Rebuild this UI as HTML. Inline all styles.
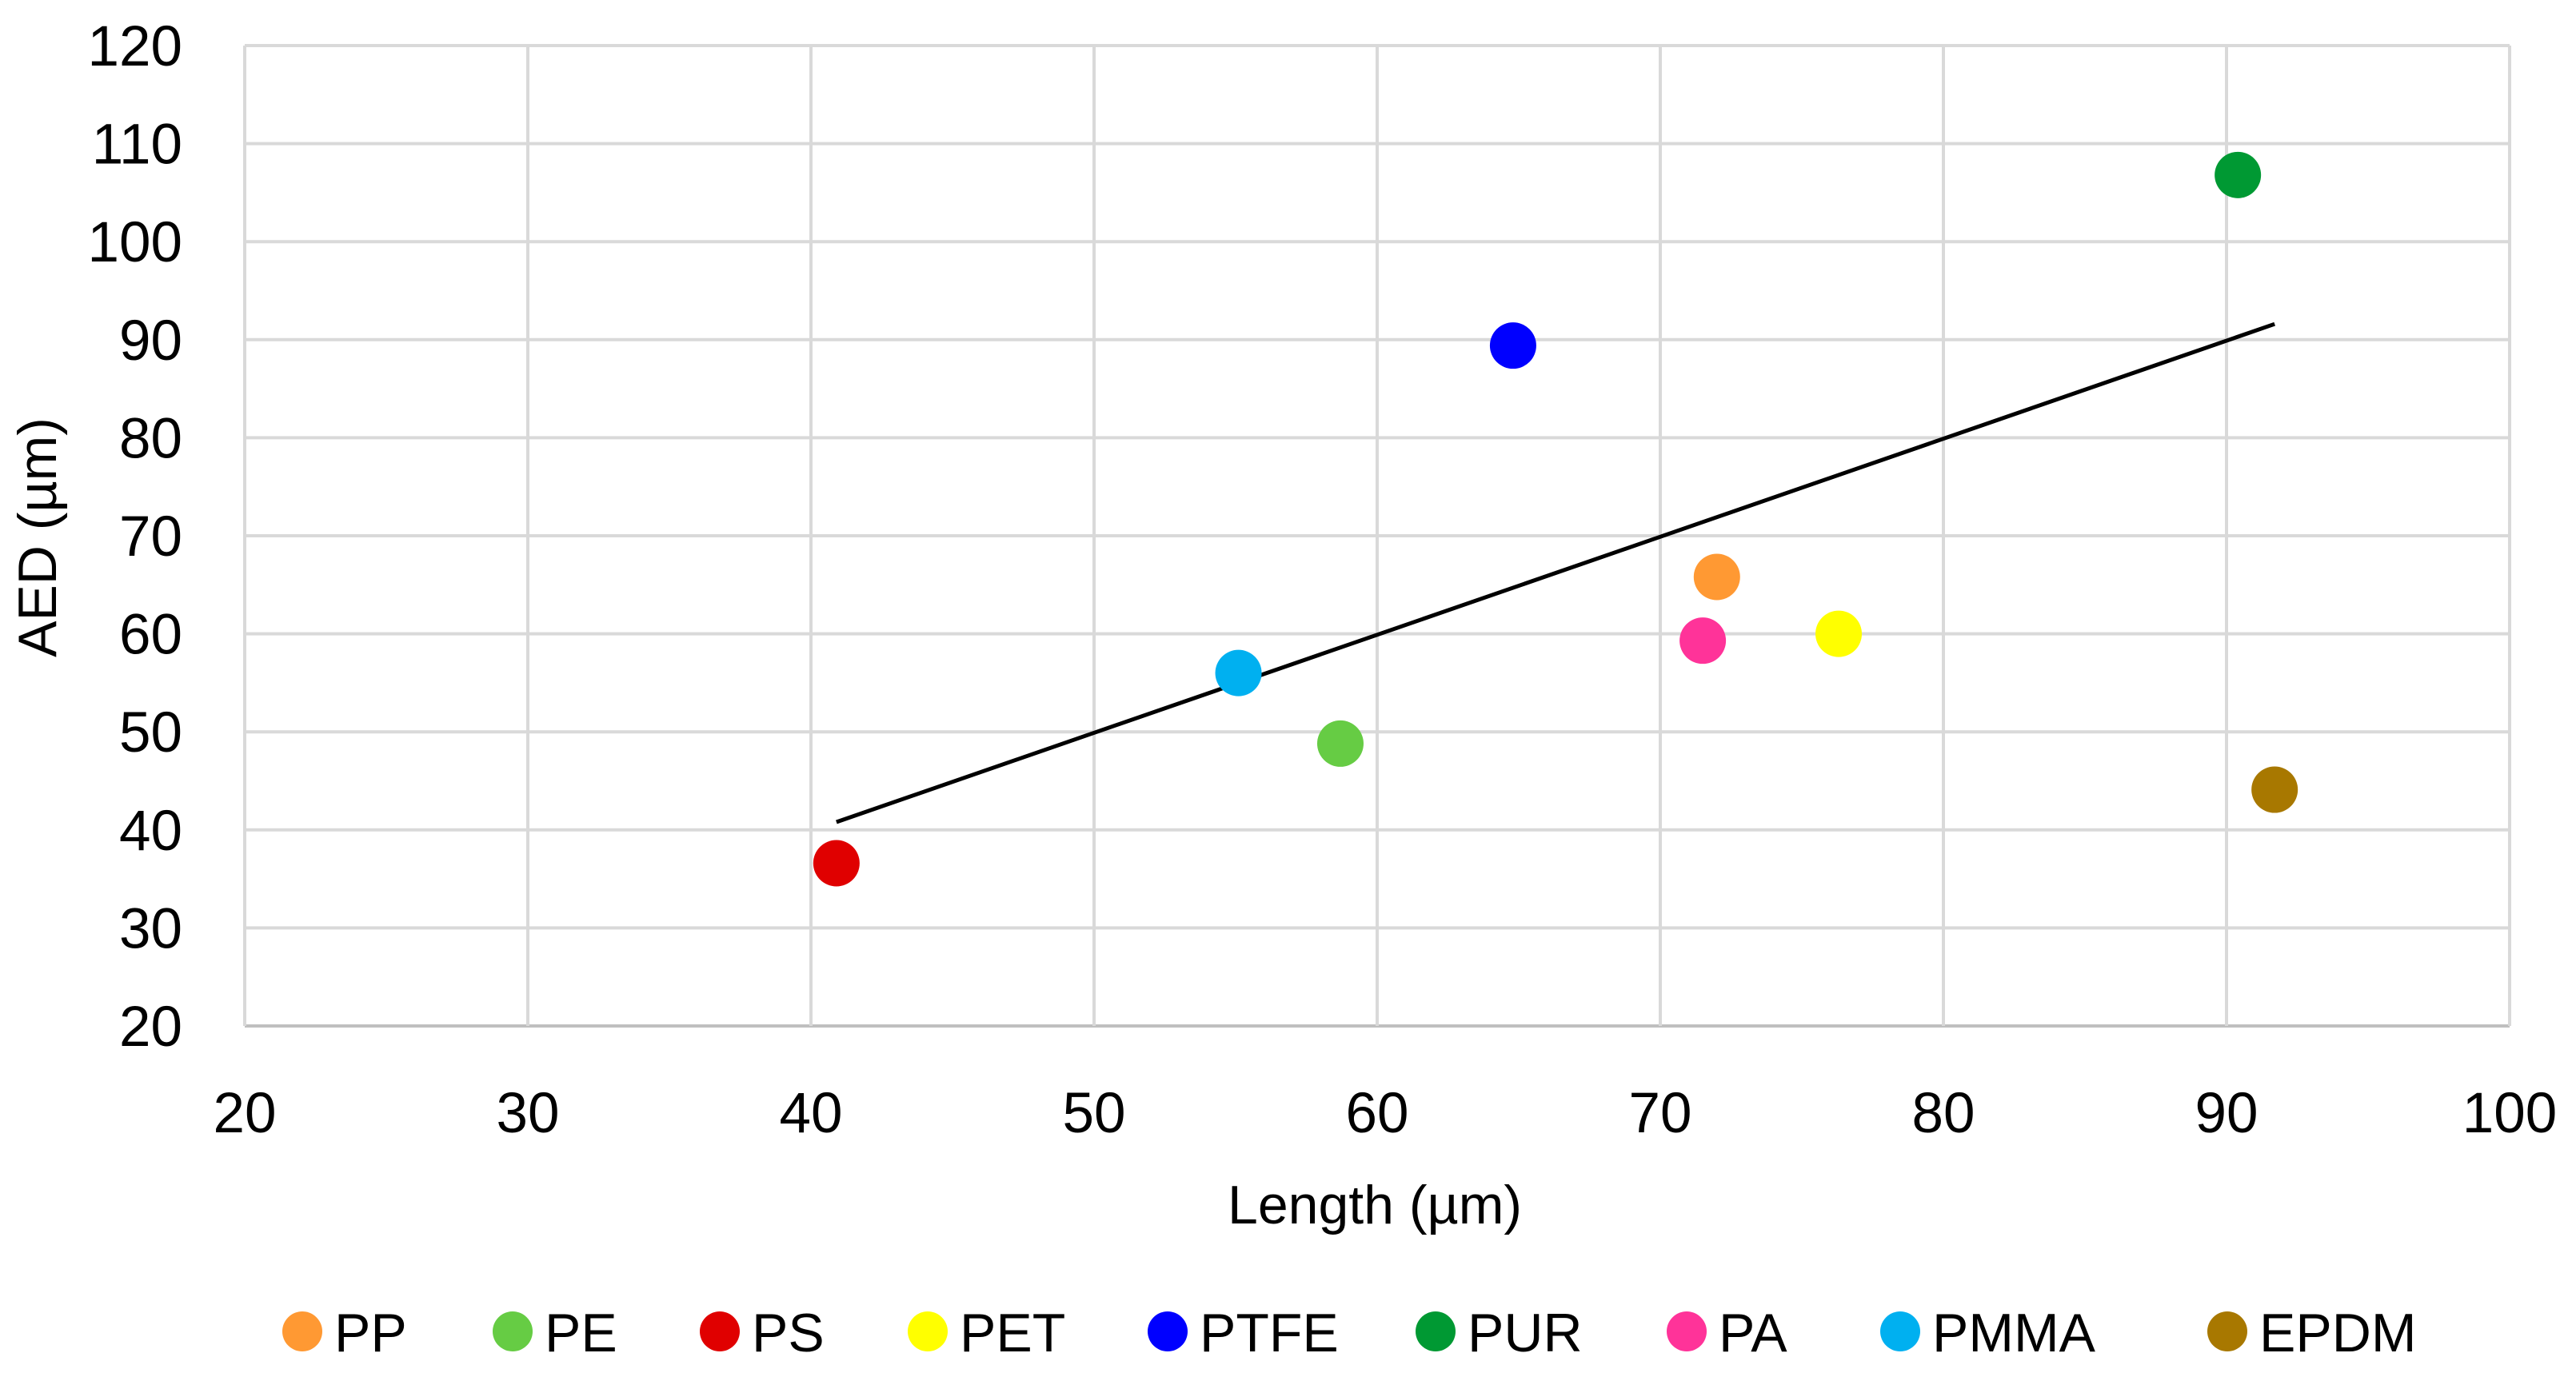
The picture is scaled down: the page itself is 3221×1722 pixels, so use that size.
<!DOCTYPE html>
<html><head><meta charset="utf-8"><style>
html,body{margin:0;padding:0;background:#fff;}
svg{display:block;font-family:"Liberation Sans",sans-serif;}
</style></head><body>
<svg id="chart" width="3221" height="1722" viewBox="0 0 3221 1722">
<g id="grid"></g>
<g id="axes"></g>
<g id="trend"></g>
<g id="points"></g>
<g id="legend"></g>
<text x="1719" y="1530" font-size="68" text-anchor="middle" fill="#000">Length (µm)</text>
<text x="0" y="0" font-size="68" text-anchor="middle" fill="#000" transform="translate(70,672) rotate(-90)">AED (µm)</text>
</svg>
<script>
const categories = ["PP","PE","PS","PET","PTFE","PUR","PA","PMMA","EPDM"];
const lengthValues = [72.0,58.7,40.9,76.3,64.8,90.4,71.5,55.1,91.7];
const aedValues = [65.8,48.8,36.6,60.0,89.4,106.8,59.3,56.0,44.1];
const colors = ["#ff9933","#66cc44","#e00000","#ffff00","#0000ff","#009933","#ff3399","#00b0f0","#a87800"];
const trendX = [40.9,91.7];
const trendY = [40.8,91.6];
const xTicks = [20,30,40,50,60,70,80,90,100];
const yTicks = [20,30,40,50,60,70,80,90,100,110,120];

const L=306,R=3138,T=57,B=1283;
const sx=v=>L+(v-20)/80*(R-L);
const sy=v=>B-(v-20)/100*(B-T);
const NS="http://www.w3.org/2000/svg";
function mk(tag,parent,attrs){const e=document.createElementNS(NS,tag);for(const k in attrs)e.setAttribute(k,attrs[k]);parent.appendChild(e);return e;}
const grid=document.getElementById('grid'),axes=document.getElementById('axes');
yTicks.forEach(v=>{
  const l=mk('line',grid,{x1:L,x2:R,y1:sy(v),y2:sy(v),stroke:v===20?'#bfbfbf':'#d9d9d9','stroke-width':4});
  
  
  const t=mk('text',axes,{x:228,y:sy(v)+25,'font-size':71,'text-anchor':'end',fill:'#000'});
  t.textContent=v;
  
  
});
xTicks.forEach(v=>{
  const l=mk('line',grid,{x1:sx(v),x2:sx(v),y1:T,y2:B,stroke:'#d9d9d9','stroke-width':4});
  
  
  const t=mk('text',axes,{x:sx(v),y:1416,'font-size':71,'text-anchor':'middle',fill:'#000'});
  t.textContent=v;
  
  
});
const tl=mk('line',document.getElementById('trend'),{x1:sx(trendX[0]),y1:sy(trendY[0]),x2:sx(trendX[1]),y2:sy(trendY[1]),stroke:'#000','stroke-width':5});


const pts=document.getElementById('points');
categories.forEach((c,i)=>{
  const p=mk('circle',pts,{cx:sx(lengthValues[i]),cy:sy(aedValues[i]),r:29,fill:colors[i]});
  
  
});
const legX=[378,641,900,1160,1460,1795,2109,2376,2785];
const lg=document.getElementById('legend');
categories.forEach((c,i)=>{
  const g=mk('g',lg,{});
  
  
  const m=mk('circle',g,{cx:legX[i],cy:1665,r:25,fill:colors[i]});
  
  
  const t=mk('text',g,{x:legX[i]+40,y:1690,'font-size':68,fill:'#000'});
  t.textContent=c;
  
  
});
</script>
</body></html>
